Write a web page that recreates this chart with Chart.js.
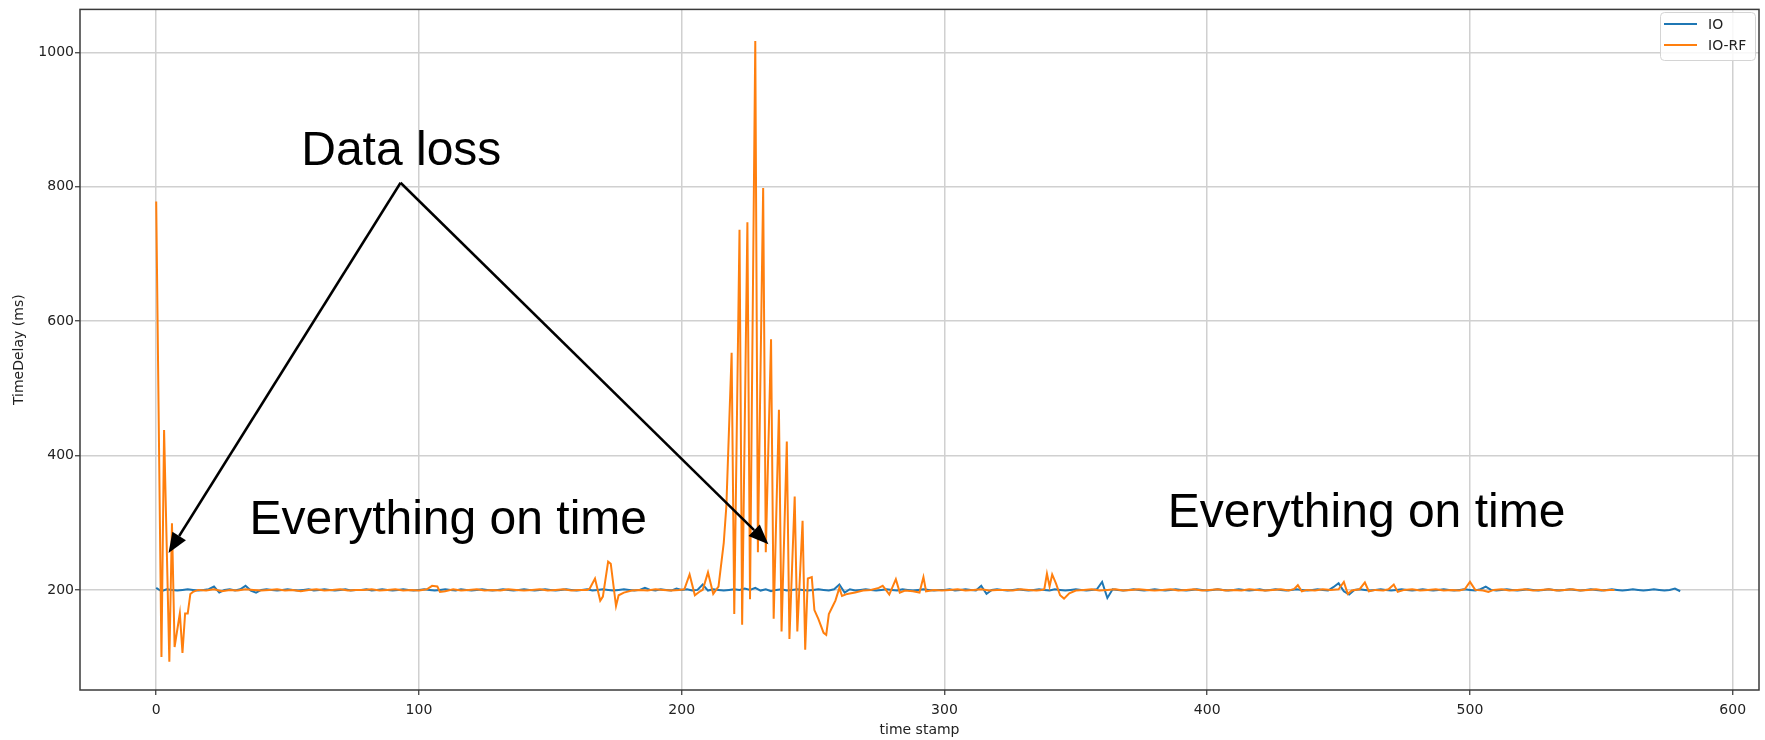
<!DOCTYPE html>
<html>
<head>
<meta charset="utf-8">
<script src="https://cdn.jsdelivr.net/npm/chart.js@4"></script>
<style>body{margin:0;background:#fff}</style>
</head>
<body>
<canvas id="myChart" width="1765" height="740"></canvas>
<script>
const xTicks = [0, 100, 200, 300, 400, 500, 600];
const yTicks = [200, 400, 600, 800, 1000];

// IO: one sample every 2 time stamps, starting at 0
const ioStart = 0;
const ioStep = 2;
const ioVals = [
  203, 198, 201, 200, 199, 200, 201, 200, 199, 200,
  201, 205, 196, 200, 201, 199, 201, 206, 199, 196,
  200, 201, 200, 199, 200, 201, 200, 199, 200, 201,
  199, 200, 201, 200, 199, 200, 201, 199, 200, 200,
  201, 199, 200, 201, 200, 199, 200, 201, 200, 199,
  200, 201, 200, 199, 200, 201, 200, 199, 201, 200,
  199, 200, 201, 200, 199, 200, 201, 200, 199, 200,
  201, 200, 199, 200, 201, 200, 199, 200, 201, 200,
  199, 200, 201, 199, 200, 201, 200, 199, 200, 201,
  200, 199, 200, 203, 200, 199, 201, 200, 199, 202,
  200, 201, 199, 200, 208, 199, 201, 200, 199, 200,
  201, 200, 202, 200, 203, 199, 201, 198, 200, 201,
  199, 200, 201, 200, 199, 200, 201, 200, 199, 201,
  208, 196, 201, 199, 200, 201, 200, 199, 200, 201,
  200, 199, 201, 200, 199, 200, 201, 200, 199, 200,
  200, 201, 199, 200, 201, 200, 199, 206, 194, 200,
  201, 200, 199, 200, 201, 200, 199, 200, 201, 200,
  199, 201, 200, 199, 200, 201, 200, 199, 200, 201,
  212, 188, 201, 200, 199, 200, 201, 200, 199, 200,
  201, 200, 199, 200, 201, 200, 199, 200, 201, 200,
  199, 200, 201, 200, 199, 200, 201, 200, 199, 200,
  201, 199, 200, 201, 200, 199, 200, 201, 200, 199,
  200, 201, 200, 199, 204, 210, 198, 193, 200, 201,
  200, 199, 200, 201, 200, 199, 200, 201, 200, 199,
  200, 201, 200, 199, 200, 201, 200, 199, 200, 201,
  200, 199, 201, 205, 200, 199, 200, 201, 200, 199,
  200, 201, 200, 199, 200, 201, 200, 199, 200, 201,
  200, 199, 200, 201, 200, 199, 200, 201, 200, 199,
  200, 201, 200, 199, 200, 201, 200, 199, 200, 202,
  198
];

// IO-RF: time stamps and delays read at the turning points of the line
const rfTime = [
  0, 2, 3, 5, 6, 7, 9, 10, 11, 12, 13, 14, 16, 19, 22, 25, 28, 31, 34, 37,
  40, 43, 46, 49, 52, 55, 58, 61, 64, 67, 70, 73, 76, 79, 82, 85, 88, 91, 94, 97,
  100, 103, 105, 107, 108, 110, 113, 116, 119, 122, 125, 128, 131, 134, 137, 140, 143, 146, 149, 152,
  155, 158, 161, 164, 165, 167, 169, 170, 172, 173, 175, 176, 178, 181, 184, 187, 190, 193, 196, 199,
  201, 203, 205, 207, 208, 210, 212, 214, 216, 217, 219, 220, 222, 223, 225, 226, 228, 229, 231, 232,
  234, 235, 237, 238, 240, 241, 243, 244, 246, 247, 248, 249.5, 250.5, 252, 254, 255, 256, 257.5, 258.5, 260,
  261, 263, 266, 269, 272, 275, 276.5, 277.5, 279, 281.5, 283, 285, 288, 290.5, 292, 293, 296, 299, 302, 305,
  308, 311, 314, 317, 320, 323, 326, 329, 332, 335, 337, 338, 339, 340, 341, 342.5, 344, 345.5, 347.5, 350,
  353, 356, 359, 362, 365, 368, 371, 374, 377, 380, 383, 386, 389, 392, 395, 398, 401, 404, 407, 410,
  413, 416, 419, 422, 425, 428, 431, 433, 434.5, 436, 438, 441, 444, 447, 450, 452, 453.5, 455, 458, 460,
  461.5, 464, 467, 469, 471, 472.5, 475, 478, 481, 484, 487, 490, 493, 496, 498, 500, 502, 505, 507, 509,
  512, 515, 518, 521, 524, 527, 530, 533, 536, 539, 542, 545, 548, 551, 553, 555
];
const rfVals = [
  778, 100, 438, 93, 299, 115, 165, 106, 165, 165, 194, 197, 200, 199, 201, 198, 200, 199, 201, 200,
  199, 200, 201, 199, 200, 198, 200, 201, 199, 200, 201, 199, 200, 200, 201, 199, 200, 201, 199, 200,
  199, 201, 206, 205, 197, 198, 201, 199, 200, 201, 199, 200, 199, 201, 200, 199, 200, 201, 199, 200,
  201, 199, 200, 200, 202, 217, 184, 190, 242, 239, 176, 192, 196, 199, 200, 199, 201, 200, 199, 200,
  201, 223, 192, 198, 200, 226, 194, 205, 270, 325, 553, 164, 736, 148, 747, 186, 1017, 256, 798, 256,
  573, 157, 468, 138, 421, 127, 339, 138, 303, 111, 217, 219, 170, 157, 136, 133, 164, 176, 184, 203,
  191, 194, 196, 199, 200, 203, 206, 201, 193, 216, 196, 199, 198, 196, 219, 198, 200, 199, 200, 201,
  199, 200, 201, 199, 200, 200, 199, 201, 200, 199, 200, 201, 224, 205, 223, 209, 192, 187, 195, 199,
  200, 201, 199, 200, 201, 199, 200, 201, 200, 199, 200, 201, 199, 200, 201, 199, 200, 201, 199, 200,
  199, 201, 200, 199, 200, 201, 199, 201, 207, 198, 200, 199, 201, 200, 201, 212, 194, 199, 201, 211,
  198, 200, 199, 201, 208, 197, 200, 201, 199, 200, 201, 199, 200, 199, 201, 212, 200, 199, 197, 200,
  201, 199, 200, 201, 199, 200, 201, 199, 200, 201, 199, 200, 201, 199, 200, 200
];

const ctx = document.getElementById("myChart");
const tickFont = { family: "DejaVu Sans", size: 14 };

// spines, legend box, arrows and text notes
const extras = {
  id: "extras",
  afterDatasetsDraw(chart) {
    const c = chart.ctx;
    const a = chart.chartArea;
    c.save();
    c.strokeStyle = "#3a3a3a";
    c.lineWidth = 1.5;
    c.strokeRect(a.left, a.top, a.right - a.left, a.bottom - a.top);
    c.restore();
  },
  afterDraw(chart) {
    const c = chart.ctx;
    const sx = chart.scales.x;
    const sy = chart.scales.y;
    const px = (v) => sx.getPixelForValue(v);
    const py = (v) => sy.getPixelForValue(v);

    // legend
    c.save();
    c.fillStyle = "rgba(255,255,255,0.85)";
    c.strokeStyle = "#d4d4d4";
    c.lineWidth = 1;
    c.beginPath();
    c.roundRect(1660.5, 12.5, 95, 48, 4);
    c.fill();
    c.stroke();
    const items = chart.data.datasets.slice().reverse();
    items.forEach((ds, i) => {
      const y = 24 + i * 21;
      c.strokeStyle = ds.borderColor;
      c.lineWidth = 2;
      c.beginPath();
      c.moveTo(1664, y);
      c.lineTo(1697, y);
      c.stroke();
      c.fillStyle = "#222";
      c.font = '14px "DejaVu Sans"';
      c.textBaseline = "middle";
      c.fillText(ds.label, 1708, y + 1);
    });

    // arrows from the "Data loss" note
    const from = [px(93), py(806)];
    [[4.7, 255], [233, 268]].forEach(([tx, ty]) => {
      const to = [px(tx), py(ty)];
      const ang = Math.atan2(to[1] - from[1], to[0] - from[0]);
      const hl = 20, hw = 8;
      const bx = to[0] - hl * Math.cos(ang);
      const by = to[1] - hl * Math.sin(ang);
      c.strokeStyle = "#000";
      c.fillStyle = "#000";
      c.lineWidth = 2.5;
      c.beginPath();
      c.moveTo(from[0], from[1]);
      c.lineTo(bx, by);
      c.stroke();
      c.beginPath();
      c.moveTo(to[0], to[1]);
      c.lineTo(bx + hw * Math.sin(ang), by - hw * Math.cos(ang));
      c.lineTo(bx - hw * Math.sin(ang), by + hw * Math.cos(ang));
      c.closePath();
      c.fill();
    });

    // notes
    c.fillStyle = "#000";
    c.font = '48px "Liberation Sans"';
    c.textBaseline = "alphabetic";
    c.textAlign = "left";
    c.fillText("Data loss", px(55.2), py(832));
    c.fillText("Everything on time", px(35.5), py(283));
    c.fillText("Everything on time", px(385), py(293));
    c.restore();
  }
};

new Chart(ctx, {
  type: "line",
  data: {
    datasets: [
      {
        label: "IO-RF",
        data: rfTime.map((t, i) => ({ x: t, y: rfVals[i] })),
        borderColor: "#ff7f0e",
        borderWidth: 2,
        pointRadius: 0,
        tension: 0,
      },
      {
        label: "IO",
        data: ioVals.map((v, i) => ({ x: ioStart + i * ioStep, y: v })),
        borderColor: "#1f77b4",
        borderWidth: 2,
        pointRadius: 0,
        tension: 0,
      },
    ],
  },
  options: {
    responsive: false,
    animation: false,
    devicePixelRatio: 1,
    layout: { padding: { top: 3, right: 6, left: 0, bottom: 0 } },
    plugins: { legend: { display: false }, tooltip: { enabled: false } },
    scales: {
      x: {
        type: "linear",
        min: -29,
        max: 610,
        afterBuildTicks: (s) => { s.ticks = xTicks.map((v) => ({ value: v })); },
        afterFit: (s) => { s.height = 50; },
        grid: { color: "#d0d0d0", lineWidth: 1.5, tickLength: 5, tickColor: "#333", tickWidth: 1.2 },
        border: { display: false },
        ticks: { font: tickFont, color: "#222", padding: 7, maxRotation: 0, autoSkip: false, callback: (v) => String(v) },
        title: { display: true, text: "time stamp", font: tickFont, color: "#222", padding: { top: 0, bottom: 1.6 } },
      },
      y: {
        min: 51,
        max: 1064,
        afterBuildTicks: (s) => { s.ticks = yTicks.map((v) => ({ value: v })); },
        afterFit: (s) => { s.width = 80; },
        grid: { color: "#d0d0d0", lineWidth: 1.5, tickLength: 5, tickColor: "#333", tickWidth: 1.2 },
        border: { display: false },
        ticks: { font: tickFont, color: "#222", padding: 1, callback: (v) => String(v) },
        title: { display: true, text: "TimeDelay (ms)", font: tickFont, color: "#222", padding: { top: 10.6, bottom: 0 } },
      },
    },
  },
  plugins: [extras],
});
</script>
</body>
</html>
